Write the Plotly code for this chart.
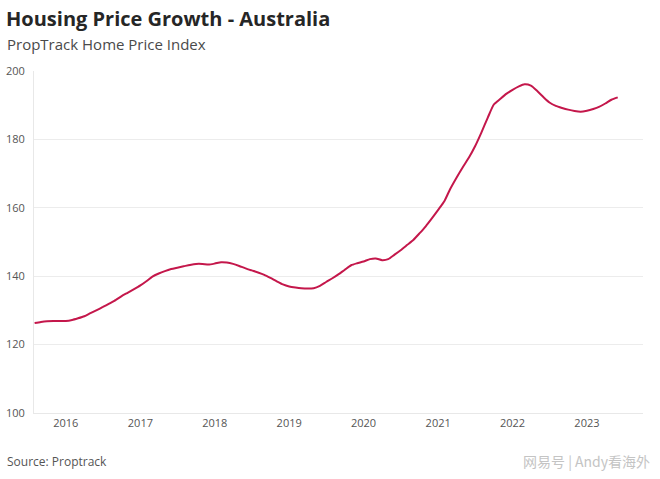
import plotly.graph_objects as go
import pandas as pd

dates = pd.date_range("2015-08-01", "2023-06-01", freq="MS")
values = [
    126.3, 126.6, 126.8, 126.9, 126.9,
    126.9, 127.2, 127.7, 128.3, 129.2, 130.1, 131.0, 132.0, 133.0, 134.2, 135.2, 136.2,
    137.3, 138.6, 139.9, 140.8, 141.5, 142.1, 142.5, 142.9, 143.3, 143.6, 143.6, 143.4,
    143.7, 144.1, 144.0, 143.6, 143.0, 142.3, 141.7, 141.1, 140.4, 139.5, 138.5, 137.6,
    137.0, 136.7, 136.5, 136.4, 136.5, 137.2, 138.3, 139.4, 140.6, 141.9, 143.2, 143.8,
    144.3, 145.0, 145.2, 144.7, 145.0, 146.3, 147.6, 149.1, 150.6, 152.5, 154.6, 156.9,
    159.4, 162.0, 165.5, 168.8, 171.8, 174.7, 178.0, 182.0, 186.3, 190.2, 191.8, 193.3,
    194.5, 195.5, 196.1, 195.7, 194.2, 192.4, 190.8, 189.8, 189.2, 188.7, 188.3, 188.1,
    188.4, 188.9, 189.5, 190.5, 191.6, 192.3,
]
y_ticks = [100, 120, 140, 160, 180, 200]
x_ticks = pd.date_range("2016-01-01", "2023-01-01", freq="YS")

title = "Housing Price Growth - Australia"
subtitle = "PropTrack Home Price Index"
source = "Source: Proptrack"
watermark = "网易号 | Andy看海外"

fig = go.Figure()
fig.add_trace(go.Scatter(
    x=dates, y=values, mode="lines",
    line=dict(color="#c4174b", width=2, shape="spline", smoothing=0.6),
    hoverinfo="x+y", showlegend=False,
))

W, H = 660, 479
L, R, T, B = 34, 17, 71, 66
pw, ph = W - L - R, H - T - B

def px(x):
    return (x - L) / pw

def py(y):
    return (H - B - y) / ph

fig.update_layout(
    width=W, height=H,
    margin=dict(l=L, r=R, t=T, b=B, autoexpand=False),
    paper_bgcolor="white", plot_bgcolor="white",
    font=dict(family="Open Sans, Lato, sans-serif", color="#555"),
    xaxis=dict(
        range=["2015-07-29", "2023-10-03"],
        tickvals=x_ticks,
        tickformat="%Y",
        showgrid=False, showline=True, linecolor="#e8e8e8", linewidth=1,
        ticks="", tickfont=dict(size=11, color="#555"),
        zeroline=False, automargin=False,
    ),
    yaxis=dict(
        range=[100, 200], tickvals=y_ticks,
        showgrid=True, gridcolor="#ececec", gridwidth=1,
        showline=True, linecolor="#e8e8e8", linewidth=1,
        ticks="", ticklabelstandoff=6,
        tickfont=dict(size=11, color="#555"),
        zeroline=False, automargin=False,
    ),
    annotations=[
        dict(text="<b>" + title + "</b>", x=px(4), y=py(18), xref="paper", yref="paper",
             xanchor="left", yanchor="middle", showarrow=False,
             font=dict(size=20, color="#262626", family="Open Sans, sans-serif")),
        dict(text=subtitle, x=px(5), y=py(44), xref="paper", yref="paper",
             xanchor="left", yanchor="middle", showarrow=False,
             font=dict(size=15, color="#4a4a4a", family="Open Sans, sans-serif")),
        dict(text=source, x=px(5), y=py(461), xref="paper", yref="paper",
             xanchor="left", yanchor="middle", showarrow=False,
             font=dict(size=12, color="#555", family="Open Sans, sans-serif")),
        dict(text=watermark, x=px(652), y=py(461), xref="paper", yref="paper",
             xanchor="right", yanchor="middle", showarrow=False,
             font=dict(size=14, color="#c4c4c4", family="Noto Sans CJK SC, sans-serif")),
    ],
)

fig.write_html("out.html", config={"displayModeBar": False},
               post_script="document.body.style.margin='0';")
